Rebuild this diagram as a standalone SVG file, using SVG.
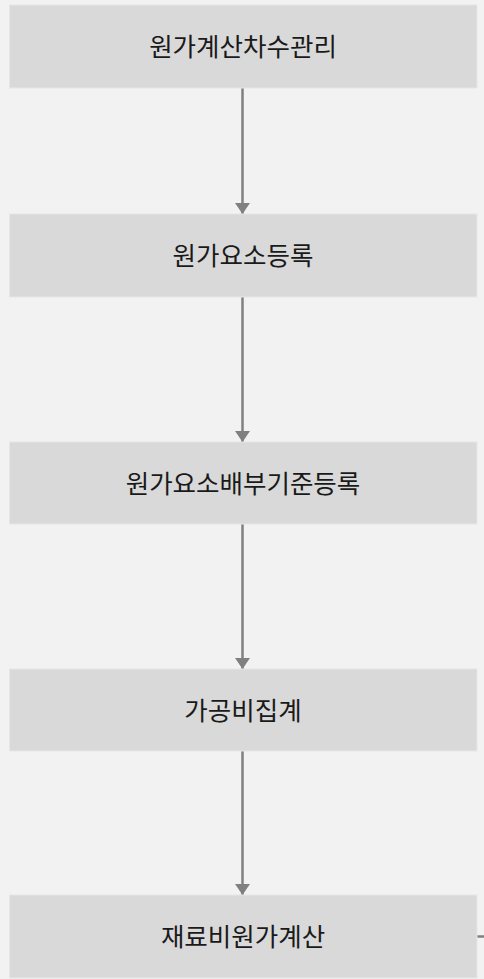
<svg xmlns="http://www.w3.org/2000/svg" width="484" height="979" viewBox="0 0 484 979">
<style>
.box{fill:#d9d9d9;stroke:#e6e6e6;stroke-width:1}
.lbl{font-family:"Noto Sans CJK KR","Noto Sans",sans-serif;font-size:25.5px;fill:#1a1a1a;text-anchor:middle;dominant-baseline:central}
.edge{stroke:#808080;stroke-width:2.5;fill:none}
</style>
<defs>
<marker id="ah" markerUnits="userSpaceOnUse" markerWidth="12" markerHeight="16" refX="11" refY="7.5" orient="auto">
<path d="M0,0 L11,7.5 L0,15 Z" fill="#808080"/>
</marker>
</defs>
<rect x="0" y="0" width="484" height="979" fill="#f2f2f2"/>
<g id="connectors">
<line class="edge" x1="242.5" y1="88" x2="242.5" y2="214" marker-end="url(#ah)"/>
<line class="edge" x1="242.5" y1="297" x2="242.5" y2="442" marker-end="url(#ah)"/>
<line class="edge" x1="242.5" y1="524" x2="242.5" y2="669" marker-end="url(#ah)"/>
<line class="edge" x1="242.5" y1="751" x2="242.5" y2="895" marker-end="url(#ah)"/>
<line class="edge" x1="477" y1="936.5" x2="484" y2="936.5"/>
</g>
<g id="n1"><rect class="box" x="9.5" y="5" width="467.5" height="83"/><text class="lbl" x="243" y="44">원가계산차수관리</text></g>
<g id="n2"><rect class="box" x="9.5" y="214" width="467.5" height="83"/><text class="lbl" x="243" y="253">원가요소등록</text></g>
<g id="n3"><rect class="box" x="9.5" y="442" width="467.5" height="82"/><text class="lbl" x="243" y="481">원가요소배부기준등록</text></g>
<g id="n4"><rect class="box" x="9.5" y="669" width="467.5" height="82"/><text class="lbl" x="243" y="708">가공비집계</text></g>
<g id="n5"><rect class="box" x="9.5" y="895" width="467.5" height="83"/><text class="lbl" x="243" y="934">재료비원가계산</text></g>
</svg>
